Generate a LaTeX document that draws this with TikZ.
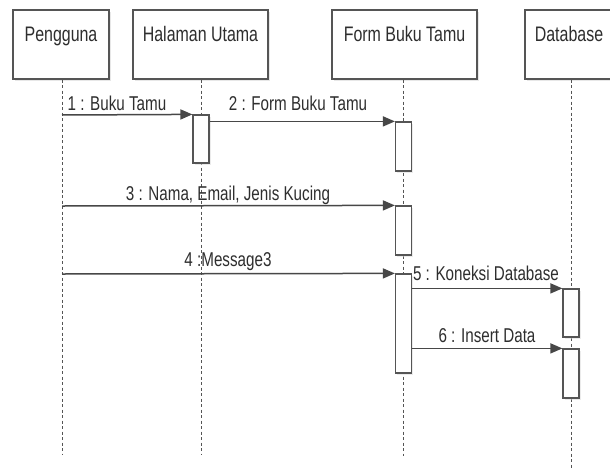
\documentclass[tikz,border=0pt]{standalone}
\usepackage{fontspec}
\setmainfont{Liberation Sans}[FakeStretch=0.76]
\usetikzlibrary{arrows.meta,shadows}
\definecolor{edge}{HTML}{555555}
\definecolor{txt}{HTML}{2E2E2E}
\begin{document}
\begin{tikzpicture}[x=1pt,y=-1pt,
  hdr/.style={draw=edge, line width=1.3pt, fill=white, minimum height=69pt, inner sep=0pt,
    drop shadow={shadow xshift=2pt, shadow yshift=-2pt, fill=black!18}},
  htxt/.style={anchor=base, inner sep=0pt, text=txt, font=\fontsize{21}{24}\selectfont},
  ltxt/.style={anchor=base, inner sep=0pt, text=txt, font=\fontsize{20}{23}\selectfont},
  life/.style={draw=edge, line width=1pt, dash pattern=on 3pt off 2.5pt},
  act/.style={draw=edge, line width=1.2pt, fill=white, minimum width=16pt, inner sep=0pt,
    drop shadow={shadow xshift=1.5pt, shadow yshift=-1.5pt, fill=black!15}},
  msg/.style={draw=black!72, line width=1.5pt, -{Triangle[length=12pt,width=10pt]}}
]
\useasboundingbox (0,0) rectangle (610,469);
\fill[white] (0,0) rectangle (610,469);

% headers
\node[hdr, minimum width=96pt]  (pg) at (61,44.5) {};
\node[hdr, minimum width=135pt] (hu) at (200.5,44.5) {};
\node[hdr, minimum width=145pt] (fb) at (404.5,44.5) {};
\node[hdr, minimum width=94pt]  (db) at (572,44.5) {};
\node[htxt] (pgt) at (61,41) {Pengguna};
\node[htxt] (hut) at (200.5,41) {Halaman Utama};
\node[htxt] (fbt) at (404.5,41) {Form Buku Tamu};
\node[htxt] (dbt) at (569,41) {Database};

% lifeline ends
\coordinate (pgend) at (62,454);
\coordinate (huend) at (201,454);
\coordinate (fbend) at (403.5,456);
\coordinate (dbend) at (571,470);
\draw[life] (pg.south -| pgend) -- (pgend);
\draw[life] (hu.south -| huend) -- (huend);
\draw[life] (fb.south -| fbend) -- (fbend);
\draw[life] (db.south -| dbend) -- (dbend);

% activations
\node[act, minimum height=48pt] (ha1) at (201,139) {};
\node[act, minimum height=49pt] (fa1) at (403.5,146.5) {};
\node[act, minimum height=49pt] (fa2) at (403.5,230.5) {};
\node[act, minimum height=99pt] (fa3) at (403.5,323.5) {};
\node[act, minimum height=48pt] (da1) at (571,313) {};
\node[act, minimum height=49pt] (da2) at (571,373.5) {};

% message start points on lifelines
\coordinate (m1s) at (62,115);
\coordinate (m3s) at (62,206);
\coordinate (m4s) at (62,274);
\coordinate (m2s) at (ha1.east |- fa1.north);
\coordinate (m5s) at (fa3.east |- da1.north);
\coordinate (m6s) at (fa3.east |- da2.north);

% messages
\draw[msg] (m1s) -- (ha1.north west);
\draw[msg] (m2s) -- (fa1.north west);
\draw[msg] (m3s) -- (fa2.north west);
\draw[msg] (m4s) -- (fa3.north west);
\draw[msg] (m5s) -- (da1.north west);
\draw[msg] (m6s) -- (da2.north west);

% labels
\node[ltxt] (l1) at (117,110) {1 : Buku Tamu};
\node[ltxt] (l2) at (298,110) {2 : Form Buku Tamu};
\node[ltxt] (l3) at (228,200) {3 : Nama, Email, Jenis Kucing};
\node[ltxt] (l4) at (228,266) {4 :Message3};
\node[ltxt] (l5) at (486,280) {5 : Koneksi Database};
\node[ltxt] (l6) at (487,342) {6 : Insert Data};
\end{tikzpicture}
\end{document}
